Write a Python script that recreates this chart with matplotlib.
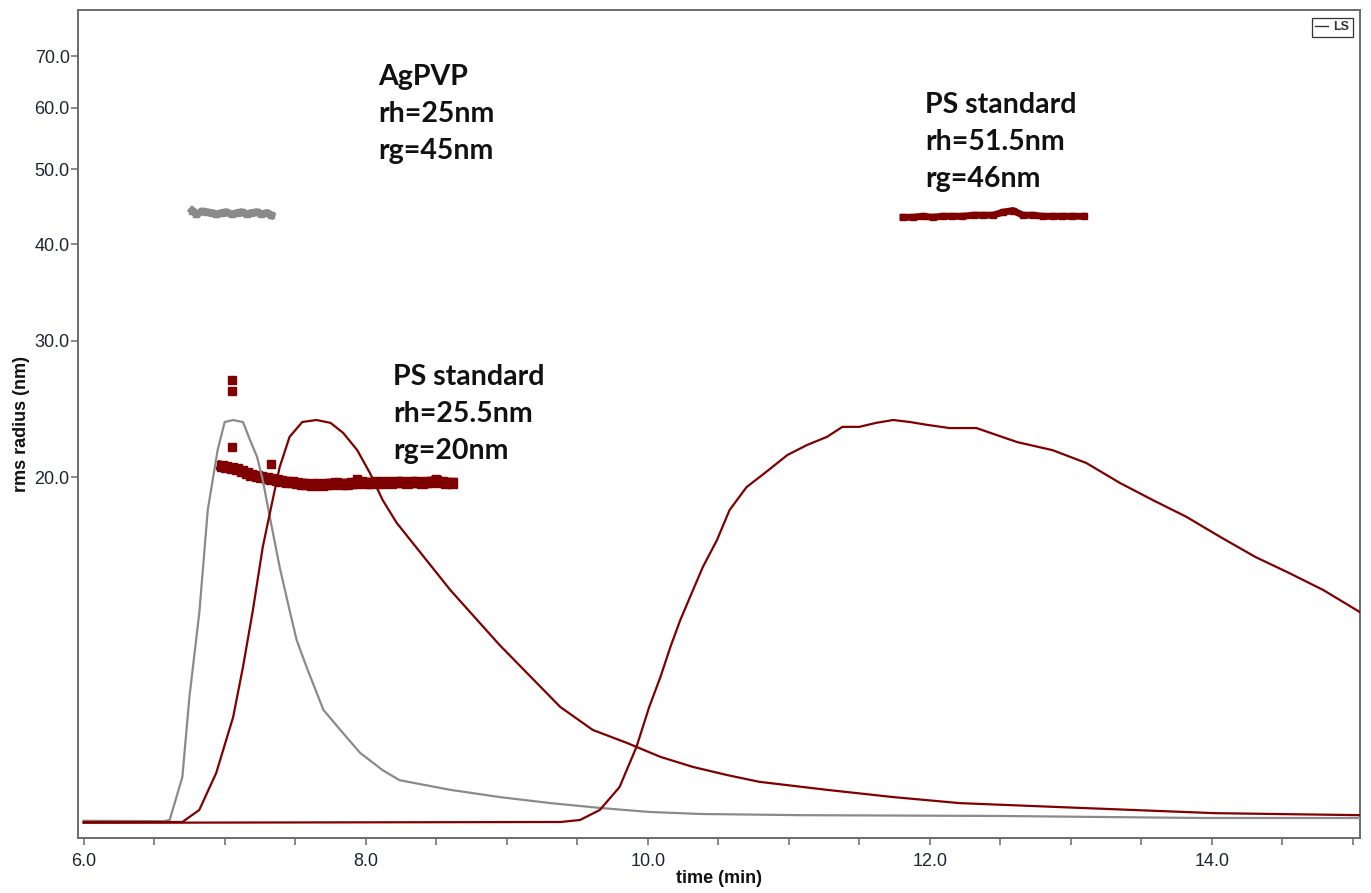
import matplotlib
matplotlib.use("Agg")
import matplotlib.pyplot as plt
from matplotlib.ticker import FixedLocator, NullLocator, MultipleLocator, FormatStrFormatter
from matplotlib.lines import Line2D

# ---------------- data ----------------
# LS detector signal (relative units, 0 = baseline, 1 = peak)
agpvp_ls_t = [6.00, 6.57, 6.61, 6.70, 6.75, 6.82, 6.88, 6.95, 7.00, 7.06, 7.13, 7.18, 7.23, 7.27,
              7.32, 7.39, 7.46, 7.51, 7.58, 7.70, 7.82, 7.96, 8.12, 8.24, 8.60, 8.95, 9.31, 9.66,
              10.01, 10.37, 11.08, 12.50, 13.92, 15.05]
agpvp_ls_v = [0.003, 0.002, 0.005, 0.112, 0.311, 0.520, 0.776, 0.925, 0.995, 1.000, 0.995, 0.950,
              0.908, 0.851, 0.759, 0.634, 0.527, 0.453, 0.386, 0.279, 0.229, 0.172, 0.129, 0.104,
              0.080, 0.062, 0.047, 0.035, 0.025, 0.020, 0.017, 0.015, 0.010, 0.010]

ps_small_ls_t = [6.00, 6.70, 6.82, 6.94, 7.06, 7.13, 7.20, 7.27, 7.34, 7.39, 7.46, 7.55, 7.65,
                 7.75, 7.84, 7.94, 8.03, 8.12, 8.22, 8.60, 8.95, 9.38, 9.61, 9.85, 10.09, 10.32,
                 10.56, 10.79, 11.27, 11.74, 12.21, 13.07, 14.02, 15.05]
ps_small_ls_v = [0.000, 0.000, 0.030, 0.122, 0.261, 0.386, 0.527, 0.684, 0.801, 0.883, 0.958,
                 0.995, 1.000, 0.993, 0.968, 0.925, 0.868, 0.801, 0.744, 0.577, 0.440, 0.286,
                 0.229, 0.197, 0.162, 0.137, 0.117, 0.100, 0.080, 0.062, 0.047, 0.035, 0.022, 0.017]

ps_large_ls_t = [6.00, 9.38, 9.52, 9.66, 9.80, 9.92, 10.01, 10.09, 10.16, 10.23, 10.30, 10.39,
                 10.49, 10.58, 10.70, 10.84, 10.99, 11.13, 11.27, 11.38, 11.50, 11.62, 11.74,
                 11.86, 11.98, 12.14, 12.33, 12.62, 12.87, 13.11, 13.35, 13.58, 13.82, 14.06,
                 14.31, 14.55, 14.79, 15.05]
ps_large_ls_v = [-0.002, 0.000, 0.005, 0.030, 0.087, 0.187, 0.286, 0.361, 0.435, 0.502, 0.560,
                 0.634, 0.701, 0.776, 0.833, 0.871, 0.913, 0.938, 0.958, 0.983, 0.983, 0.993,
                 1.000, 0.995, 0.988, 0.980, 0.980, 0.945, 0.925, 0.893, 0.843, 0.801, 0.759,
                 0.709, 0.659, 0.619, 0.577, 0.522]

# rms radius (nm)
agpvp_rms_t = [6.77, 6.80, 6.84, 6.87, 6.91, 6.94, 6.98, 7.01, 7.05, 7.09, 7.12, 7.16, 7.19,
               7.23, 7.26, 7.30, 7.33]
agpvp_rms_v = [44.2, 43.7, 44.1, 44.0, 43.9, 43.7, 43.9, 44.0, 43.7, 43.9, 44.0, 43.7, 43.9,
               44.0, 43.7, 43.9, 43.6]

ps_small_rms_t = [6.98, 7.01, 7.05, 7.09, 7.12, 7.16, 7.19, 7.23, 7.26, 7.30, 7.33, 7.37, 7.40,
                  7.44, 7.48, 7.51, 7.55, 7.58, 7.62, 7.65, 7.69, 7.72, 7.76, 7.79, 7.83, 7.87,
                  7.90, 7.94, 7.97, 8.01, 8.04, 8.08, 8.11, 8.15, 8.18, 8.22, 8.26, 8.29, 8.33,
                  8.36, 8.40, 8.43, 8.47, 8.50, 8.54, 8.57, 8.61]
ps_small_rms_v = [20.66, 20.60, 20.54, 20.48, 20.36, 20.24, 20.12, 20.06, 20.00, 19.94, 19.88,
                  19.82, 19.76, 19.70, 19.70, 19.65, 19.59, 19.59, 19.53, 19.59, 19.53, 19.59,
                  19.59, 19.65, 19.59, 19.59, 19.65, 19.65, 19.70, 19.65, 19.65, 19.70, 19.65,
                  19.70, 19.65, 19.70, 19.70, 19.65, 19.70, 19.70, 19.65, 19.70, 19.70, 19.76,
                  19.70, 19.65, 19.65]
ps_small_outlier_t = [7.05, 7.05, 7.05, 7.33, 7.94, 8.50]
ps_small_outlier_v = [26.7, 25.8, 21.9, 20.8, 19.9, 19.9]

ps_large_rms_t = [11.81, 11.88, 11.95, 12.02, 12.09, 12.16, 12.23, 12.31, 12.38, 12.45, 12.52,
                  12.59, 12.66, 12.73, 12.80, 12.87, 12.94, 13.01, 13.09]
ps_large_rms_v = [43.33, 43.33, 43.46, 43.33, 43.46, 43.46, 43.46, 43.6, 43.6, 43.6, 44.0,
                  44.2, 43.6, 43.6, 43.46, 43.46, 43.46, 43.46, 43.46]

y_ticks = [20, 30, 40, 50, 60, 70]
x_major = [6, 8, 10, 12, 14]

annotations = [
    ("AgPVP\nrh=25nm\nrg=45nm", 378, 64),
    ("PS standard\nrh=51.5nm\nrg=46nm", 925, 92),
    ("PS standard\nrh=25.5nm\nrg=20nm", 393, 364),
]

# ---------------- figure ----------------
W, H = 1371, 893
fig = plt.figure(figsize=(W / 100, H / 100), dpi=100)
fig.patch.set_facecolor("white")
L, R, T, B = 78, 1360, 10, 838
ax = fig.add_axes([L / W, 1 - B / H, (R - L) / W, (B - T) / H])

RED = "#7f0000"
GRAY = "#8a8a8a"
SPINE = "#6a6a6a"
TICKC = "#1e2433"

ax.set_yscale("log")
ax.set_xlim(5.96, 15.05)
ax.set_ylim(6.83, 80.3)

ax.plot(agpvp_rms_t, agpvp_rms_v, ls="-", lw=5.5, marker="s", ms=5, color=GRAY, mec=GRAY,
        zorder=3)
ax.plot(ps_small_rms_t, ps_small_rms_v, ls="-", lw=7.5, marker="s", ms=6.5, color=RED, mec=RED,
        zorder=3)
ax.plot(ps_small_outlier_t, ps_small_outlier_v, ls="none", marker="s", ms=5.5, color=RED,
        mec=RED, zorder=3)
ax.plot(ps_large_rms_t, ps_large_rms_v, ls="-", lw=5, marker="s", ms=4.5, color=RED, mec=RED,
        zorder=3)

ax.yaxis.set_major_locator(FixedLocator(y_ticks))
ax.yaxis.set_minor_locator(NullLocator())
ax.yaxis.set_major_formatter(FormatStrFormatter("%.1f"))
ax.xaxis.set_major_locator(FixedLocator(x_major))
ax.xaxis.set_minor_locator(MultipleLocator(0.5))
ax.xaxis.set_major_formatter(FormatStrFormatter("%.1f"))

for s in ax.spines.values():
    s.set_color(SPINE)
    s.set_linewidth(1.4)
ax.tick_params(axis="both", which="both", direction="out", length=5, width=1.1, color=SPINE,
               labelsize=13, labelcolor=TICKC)
ax.tick_params(axis="y", pad=1)
ax.tick_params(axis="x", pad=6)
for lab in ax.get_xticklabels() + ax.get_yticklabels():
    lab.set_family("Liberation Sans")

ax.set_ylabel("rms radius (nm)", fontsize=13, fontweight="bold", family="Liberation Sans",
              color="#111111", labelpad=3)
ax.set_xlabel("time (min)", fontsize=13, fontweight="bold", family="Liberation Sans",
              color="#111111", labelpad=0)

ax2 = ax.twinx()
ax2.set_ylim(-0.0398, 2.02)
ax2.plot(agpvp_ls_t, agpvp_ls_v, color=GRAY, lw=1.6)
ax2.plot(ps_small_ls_t, ps_small_ls_v, color=RED, lw=1.6)
ax2.plot(ps_large_ls_t, ps_large_ls_v, color=RED, lw=1.6)
ax2.set_yticks([])
for s in ax2.spines.values():
    s.set_visible(False)

leg = ax2.legend([Line2D([0], [0], color="#333333", lw=1)], ["LS"], loc="upper right",
                 prop={"family": "Liberation Sans", "size": 9, "weight": "bold"},
                 handlelength=1.0, handletextpad=0.4, borderpad=0.3,
                 fancybox=False, edgecolor="#333333", framealpha=1, borderaxespad=0.6)
leg.get_frame().set_linewidth(0.9)
for t in leg.get_texts():
    t.set_color("#333333")

for txt, px, py in annotations:
    fig.text(px / W, 1 - py / H, txt, fontsize=20.5, fontweight="bold", family="Lato",
             va="top", ha="left", color="#111111", linespacing=1.52)

fig.savefig("out.png", dpi=100, facecolor="white")
